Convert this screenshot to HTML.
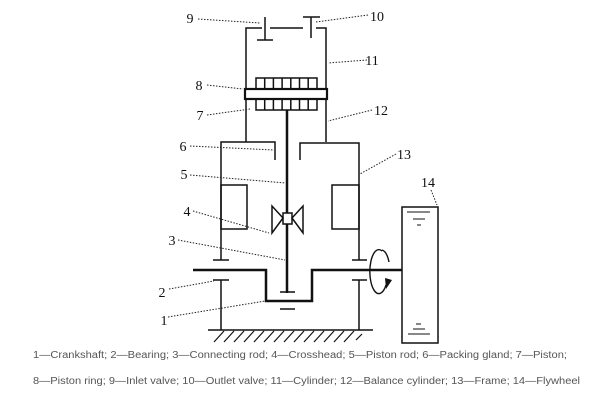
<!DOCTYPE html>
<html><head><style>body{margin:0;background:#fff}svg{display:block}</style></head><body>
<svg width="600" height="400" xmlns="http://www.w3.org/2000/svg" font-family="Liberation Serif, serif">
<rect width="600" height="400" fill="#fff"/>
<g stroke="#111" stroke-width="1.5" fill="none">
<!-- valves -->
<line x1="265" y1="17" x2="265" y2="40"/><line x1="257" y1="40" x2="273" y2="40"/>
<line x1="303" y1="17" x2="320" y2="17"/><line x1="311" y1="17" x2="311" y2="38"/>
<!-- cylinder -->
<polyline points="262,28 246,28 246,142"/><line x1="270" y1="28" x2="303" y2="28"/>
<polyline points="316,28 326,28 326,142"/>
<!-- piston -->
<rect x="256" y="78" width="61" height="32"/>
<line x1="264.7" y1="78" x2="264.7" y2="110"/><line x1="273.4" y1="78" x2="273.4" y2="110"/><line x1="282.1" y1="78" x2="282.1" y2="110"/><line x1="290.8" y1="78" x2="290.8" y2="110"/><line x1="299.5" y1="78" x2="299.5" y2="110"/><line x1="308.2" y1="78" x2="308.2" y2="110"/>
<rect x="245" y="89" width="82" height="10" fill="#fff" stroke-width="2.2"/>
<line x1="287" y1="110" x2="287" y2="293" stroke-width="2.5"/>
<!-- frame -->
<polyline points="275,160 275,142 221,142 221,260"/>
<polyline points="300,160 300,143 359,143 359,260"/>
<rect x="221" y="185" width="26" height="44"/>
<rect x="332" y="185" width="27" height="44"/>
<line x1="213" y1="260" x2="229" y2="260"/><line x1="352" y1="260" x2="367" y2="260"/>
<line x1="213" y1="280" x2="229" y2="280"/><line x1="352" y1="280" x2="367" y2="280"/>
<line x1="221" y1="280" x2="221" y2="330"/><line x1="359" y1="280" x2="359" y2="330"/>
<line x1="208" y1="330" x2="373" y2="330"/>
<g stroke-width="1.2">
<line x1="214" y1="342" x2="224" y2="331"/><line x1="224" y1="342" x2="234" y2="331"/><line x1="234" y1="342" x2="244" y2="331"/><line x1="244" y1="342" x2="254" y2="331"/><line x1="254" y1="342" x2="264" y2="331"/><line x1="264" y1="342" x2="274" y2="331"/><line x1="274" y1="342" x2="284" y2="331"/><line x1="284" y1="342" x2="294" y2="331"/><line x1="294" y1="342" x2="304" y2="331"/><line x1="304" y1="342" x2="314" y2="331"/><line x1="314" y1="342" x2="324" y2="331"/><line x1="324" y1="342" x2="334" y2="331"/><line x1="334" y1="342" x2="344" y2="331"/><line x1="344" y1="342" x2="354" y2="331"/><line x1="356" y1="340" x2="362" y2="334"/>
</g>
<!-- crankshaft -->
<polyline points="193,270 266,270 266,301 312,301 312,270 402,270" stroke-width="2.5"/>
<line x1="280" y1="292" x2="295" y2="292"/><line x1="280" y1="309" x2="295" y2="309"/>
<!-- crosshead -->
<rect x="283" y="213" width="9" height="11" fill="#fff"/>
<polygon points="283,218 272,206 272,233"/><polygon points="292,218 303,206 303,233"/>
<!-- rotation -->
<path d="M386,285 A9,22 0 1 1 382,251" stroke-width="1.4"/>
<path d="M382,250 A9,22 0 0 1 389,262" stroke-width="1.4"/>
<path d="M385,278 L392,280 L386,289 Z" fill="#111" stroke="none"/>
<!-- flywheel -->
<rect x="402" y="207" width="36" height="136"/>
<line x1="407" y1="212" x2="430" y2="212" stroke-width="1"/><line x1="413" y1="219" x2="425" y2="219" stroke-width="1"/><line x1="417" y1="225" x2="421" y2="225" stroke-width="1"/>
<line x1="416" y1="324" x2="421" y2="324" stroke-width="1"/><line x1="413" y1="329" x2="425" y2="329" stroke-width="1"/><line x1="408" y1="334" x2="430" y2="334" stroke-width="1"/>
</g>
<!-- leaders -->
<g stroke="#222" stroke-width="1" stroke-dasharray="1.5,1.5" fill="none">
<line x1="198" y1="19" x2="260" y2="23"/>
<line x1="368" y1="15" x2="316" y2="22"/>
<line x1="367" y1="60" x2="328" y2="63"/>
<line x1="207" y1="85" x2="243" y2="89"/>
<line x1="207" y1="115" x2="250" y2="109"/>
<line x1="372" y1="110" x2="328" y2="121"/>
<line x1="190" y1="146" x2="274" y2="150"/>
<line x1="396" y1="154" x2="360" y2="174"/>
<line x1="190" y1="175" x2="285" y2="183"/>
<line x1="431" y1="190" x2="437" y2="205"/>
<line x1="193" y1="211" x2="269" y2="233"/>
<line x1="178" y1="240" x2="285" y2="260"/>
<line x1="169" y1="289" x2="214" y2="281"/>
<line x1="168" y1="317" x2="265" y2="301"/>
</g>
<g font-size="14" fill="#111" text-anchor="middle">
<text x="190" y="23">9</text><text x="377" y="21">10</text><text x="372" y="65">11</text>
<text x="199" y="90">8</text><text x="200" y="120">7</text><text x="381" y="115">12</text>
<text x="183" y="151">6</text><text x="404" y="159">13</text><text x="184" y="179">5</text>
<text x="428" y="187">14</text><text x="187" y="216">4</text><text x="172" y="245">3</text>
<text x="162" y="297">2</text><text x="164" y="325">1</text>
</g>
<g font-family="Liberation Sans, sans-serif" font-size="10" fill="#555">
<text x="33" y="358" textLength="534" lengthAdjust="spacingAndGlyphs">1—Crankshaft; 2—Bearing; 3—Connecting rod; 4—Crosshead; 5—Piston rod; 6—Packing gland; 7—Piston;</text>
<text x="33" y="384" textLength="547" lengthAdjust="spacingAndGlyphs">8—Piston ring; 9—Inlet valve; 10—Outlet valve; 11—Cylinder; 12—Balance cylinder; 13—Frame; 14—Flywheel</text>
</g>
</svg>
</body></html>
